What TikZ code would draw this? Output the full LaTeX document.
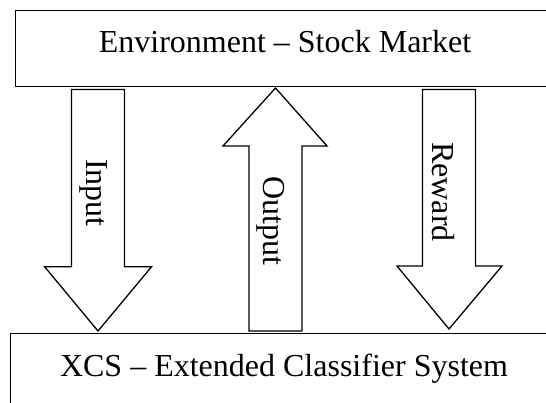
\documentclass[tikz,border=0pt]{standalone}
\usepackage{fontspec}
\setmainfont{Liberation Serif}
\begin{document}
\begin{tikzpicture}[x=1pt,y=-1pt,
  boxline/.style={line width=1.3pt},
  arrowline/.style={line width=1.3pt, line join=miter},
  lbl/.style={font=\fontsize{32}{38}\selectfont, inner sep=0pt},
  vlbl/.style={lbl, rotate=-90}]
\useasboundingbox (0,0) rectangle (546,402);
% boxes
\draw[boxline] (15.7,10.5) rectangle (570,86.8);
\draw[boxline] (10.5,333.6) rectangle (570,420);
\node[lbl, anchor=base] (env) at (285,52) {Environment – Stock Market};
\node[lbl, anchor=base] (xcs) at (284,376) {XCS – Extended Classifier System};
% Input arrow (down)
\draw[arrowline] (71.5,89.5) -- (124.5,89.5) -- (124.5,266.7) -- (151.6,266.7)
  -- (98,331) -- (44.6,266.7) -- (71.5,266.7) -- cycle;
\node[vlbl] (input) at (94,193) {Input};
% Output arrow (up)
\draw[arrowline] (249,331) -- (302,331) -- (302,146) -- (327,146)
  -- (275.5,88) -- (223,146) -- (249,146) -- cycle;
\node[vlbl] (output) at (271,221) {Output};
% Reward arrow (down)
\draw[arrowline] (422.5,89.5) -- (475.5,89.5) -- (475.5,266) -- (502,266)
  -- (449,329) -- (397,266) -- (422.5,266) -- cycle;
\node[vlbl] (reward) at (443,192) {Reward};
\end{tikzpicture}
\end{document}
